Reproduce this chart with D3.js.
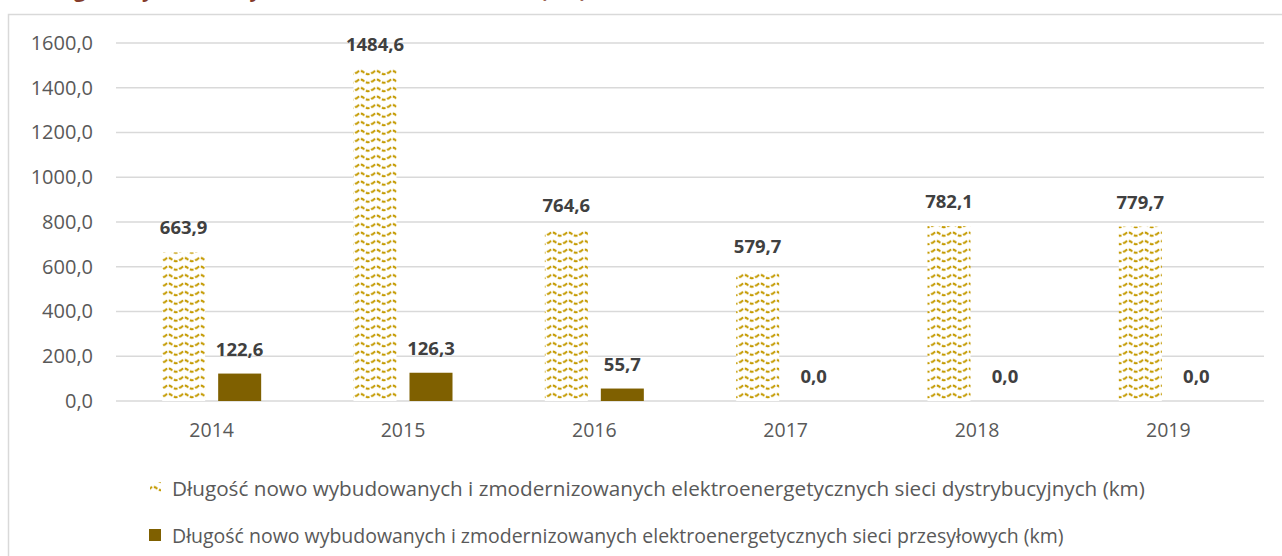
<!DOCTYPE html>
<html>
<head>
<meta charset="utf-8">
<script src="https://cdn.jsdelivr.net/npm/d3@7"></script>
<style>
  body { margin: 0; background: #fff; }
  svg { display: block; font-family: "Open Sans", "Noto Sans", sans-serif; }
</style>
</head>
<body>
<div id="chart"></div>
<script>
// Data
const years = ["2014", "2015", "2016", "2017", "2018", "2019"];
const distribution = [663.9, 1484.6, 764.6, 579.7, 782.1, 779.7];
const transmission = [122.6, 126.3, 55.7, 0.0, 0.0, 0.0];
const yTicks = [0, 200, 400, 600, 800, 1000, 1200, 1400, 1600];
const seriesNames = [
    "Długość nowo wybudowanych i zmodernizowanych elektroenergetycznych sieci dystrybucyjnych (km)",
    "Długość nowo wybudowanych i zmodernizowanych elektroenergetycznych sieci przesyłowych (km)"
];
const titleText = "Długość wybudowanych sieci w latach 2014-2019 (km)";

const W = 1282, H = 556;
const margin = { top: 43, right: 18, bottom: 155, left: 116 },
      width = W - margin.left - margin.right,
      height = H - margin.top - margin.bottom;

const fmt = v => v.toFixed(1).replace(".", ",");

const root = d3.select("#chart")
    .append("svg")
    .attr("width", W)
    .attr("height", H);

// Wave pattern for the distribution series
const defs = root.append("defs");
const pat = defs.append("pattern")
    .attr("id", "wave")
    .attr("patternUnits", "userSpaceOnUse")
    .attr("width", 16)
    .attr("height", 8.5);
pat.append("rect").attr("width", 16).attr("height", 8.5).attr("fill", "#fff");
pat.append("path")
    .attr("d", "M0,5 Q4,0.5 8,4 Q12,7.5 16,4")
    .attr("fill", "none")
    .attr("stroke", "#C49A00")
    .attr("stroke-width", 2)
    .attr("stroke-dasharray", "4,1.6");

// Title above the chart box (the page crop only leaves its lowest part)
const title = root.append("text")
    .attr("x", 0)
    .attr("y", -3)
    .attr("fill", "#843C2C")
    .style("font-size", "24px")
    .style("font-weight", "bold")
    .text(titleText);
{
    // place it so the "g" and the closing bracket sit where the reference has them
    const n = title.node();
    const gPos = n.getStartPositionOfChar(3).x;
    const cPos = n.getStartPositionOfChar(titleText.length - 1).x;
    const k = (584 - 78) / (cPos - gPos);
    title.style("font-size", (24 * k).toFixed(2) + "px")
        .attr("x", 74 - gPos * k);
}

// Chart border
root.append("rect")
    .attr("x", 8.5)
    .attr("y", 14.5)
    .attr("width", W + 10)
    .attr("height", H)
    .attr("fill", "#fff")
    .attr("stroke", "#d9d9d9")
    .attr("stroke-width", 1.5);

const svg = root.append("g")
    .attr("transform", `translate(${margin.left},${margin.top})`);

// Scales
const x0 = d3.scaleBand()
    .domain(years)
    .range([0, width]);

const y = d3.scaleLinear()
    .domain([0, 1600])
    .range([height, 0]);

const barW = 43, gap = 13;

// Gridlines
svg.append("g")
    .selectAll("line")
    .data(yTicks)
    .enter()
    .append("line")
    .attr("x1", 0)
    .attr("x2", width)
    .attr("y1", d => y(d))
    .attr("y2", d => y(d))
    .attr("stroke", "#d9d9d9")
    .attr("stroke-width", 1.5);

// Y axis labels
const yAxis = svg.append("g")
    .call(d3.axisLeft(y).tickValues(yTicks).tickFormat(fmt).tickSize(0).tickPadding(23));
yAxis.select(".domain").remove();
yAxis.selectAll("text")
    .attr("fill", "#595959")
    .style("font-size", "20px")
    .style("font-family", "Open Sans, sans-serif");

// X axis labels
const xAxis = svg.append("g")
    .attr("transform", `translate(0,${height})`)
    .call(d3.axisBottom(x0).tickSize(0).tickPadding(22));
xAxis.select(".domain").remove();
xAxis.selectAll("text")
    .attr("fill", "#595959")
    .style("font-size", "19.5px")
    .style("font-family", "Open Sans, sans-serif");

const centre = d => x0(d) + x0.bandwidth() / 2;

// Distribution bars
svg.selectAll(".bar-dist")
    .data(years)
    .enter()
    .append("rect")
    .attr("x", d => centre(d) - gap / 2 - barW)
    .attr("y", (d, i) => y(distribution[i]))
    .attr("width", barW)
    .attr("height", (d, i) => height - y(distribution[i]))
    .attr("fill", "url(#wave)");

// Transmission bars
svg.selectAll(".bar-trans")
    .data(years)
    .enter()
    .append("rect")
    .attr("x", d => centre(d) + gap / 2)
    .attr("y", (d, i) => y(transmission[i]))
    .attr("width", barW)
    .attr("height", (d, i) => height - y(transmission[i]))
    .attr("fill", "#7F6000");

// Data labels
const labelStyle = sel => sel
    .attr("text-anchor", "middle")
    .attr("fill", "#404040")
    .style("font-size", "18.5px")
    .style("font-weight", "bold");

svg.selectAll(".lab-dist")
    .data(years)
    .enter()
    .append("text")
    .attr("x", d => centre(d) - gap / 2 - barW / 2)
    .attr("y", (d, i) => y(distribution[i]) - 18)
    .text((d, i) => fmt(distribution[i]))
    .call(labelStyle);

svg.selectAll(".lab-trans")
    .data(years)
    .enter()
    .append("text")
    .attr("x", d => centre(d) + gap / 2 + barW / 2)
    .attr("y", (d, i) => y(transmission[i]) - 18)
    .text((d, i) => fmt(transmission[i]))
    .call(labelStyle);

// Legend
const legend = root.append("g")
    .attr("transform", "translate(149, 0)");

seriesNames.forEach((name, i) => {
    const cy = 488 + i * 47;
    legend.append("rect")
        .attr("x", i === 0 ? 1 : 0)
        .attr("y", cy - 6)
        .attr("width", i === 0 ? 11 : 12)
        .attr("height", i === 0 ? 11 : 12)
        .attr("fill", i === 0 ? "url(#wave)" : "#7F6000");

    const t = legend.append("text")
        .attr("x", 23)
        .attr("y", cy)
        .attr("dominant-baseline", "central")
        .attr("fill", "#595959")
        .style("font-size", "18px")
        .text(name);
    // fit to the width seen in the reference
    const target = i === 0 ? 973 : 892;
    const len = t.node().getComputedTextLength();
    t.style("font-size", (18 * target / len).toFixed(2) + "px");
});
</script>
</body>
</html>
